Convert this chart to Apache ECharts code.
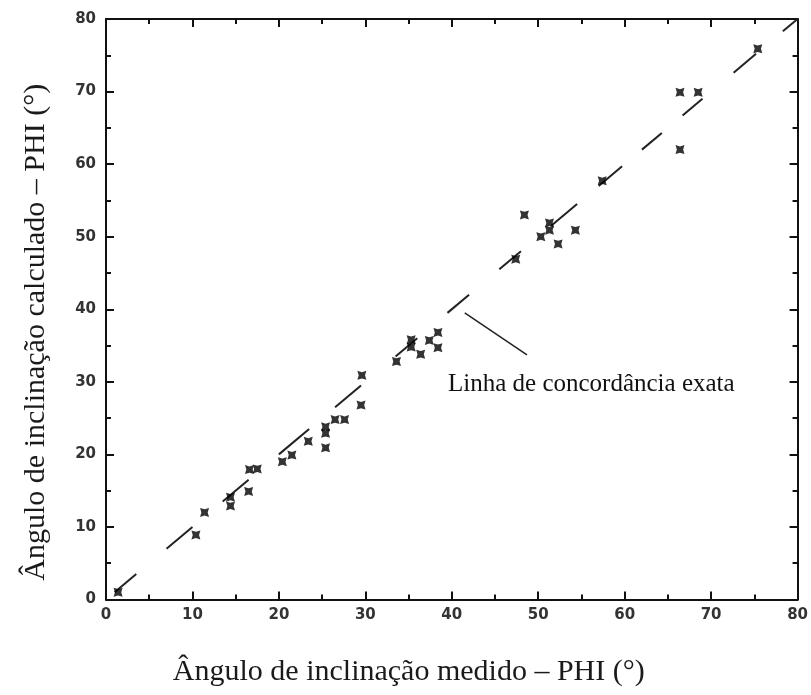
<!DOCTYPE html>
<html>
<head>
<meta charset="utf-8">
<script src="https://cdn.jsdelivr.net/npm/echarts@6/dist/echarts.min.js"></script>
<style>
html,body{margin:0;padding:0;background:#fff;}
#chart{width:811px;height:695px;}
</style>
</head>
<body>
<div id="chart"></div>
<script>
// Measured PHI (°) and calculated PHI (°)
const measured = [1.4, 10.4, 11.4, 14.4, 14.4, 16.5, 16.6, 17.5, 20.4, 21.5, 23.4, 25.4, 25.4, 25.4, 26.5, 27.6, 29.5, 29.6,
  33.6, 35.3, 35.3, 36.4, 37.4, 38.4, 38.4, 47.4, 48.4, 50.3, 51.3, 51.3, 52.3, 54.3, 57.4, 66.4, 68.5, 66.4, 75.4];
const calculated = [1, 8.9, 12, 14.1, 12.9, 14.9, 17.9, 18, 19, 19.9, 21.8, 20.9, 22.9, 23.8, 24.8, 24.8, 26.8, 30.9,
  32.8, 35.8, 34.8, 33.8, 35.7, 36.8, 34.7, 46.9, 53, 50, 51.9, 50.9, 49, 50.9, 57.7, 69.9, 69.9, 62, 75.9];
// Dashed line of exact agreement (y = x): drawn dash segments [start, end] in data units
const dashSegments = [[1, 3.5], [7, 10], [13.5, 16.5], [20, 23.5], [26.5, 29.5], [33.5, 36], [39.5, 42], [45.5, 48],
  [51.5, 54.5], [57, 59.7], [62, 64.3], [66.7, 69], [72.6, 75.2], [78.3, 80]];
// Annotation leader line (data units)
const leader = [[41.5, 39.5], [48.7, 33.7]];
const annotationText = 'Linha de concordância exata';
const xTitle = 'Ângulo de inclinação medido – PHI (°)';
const yTitle = 'Ângulo de inclinação calculado – PHI (°)';
const axisMin = 0, axisMax = 80, axisStep = 10;

const points = measured.map((x, i) => [x, calculated[i]]);
const chart = echarts.init(document.getElementById('chart'), null, {renderer: 'canvas'});

const axLine = {show: true, onZero: false, lineStyle: {color: '#111', width: 2}};
const tick = {show: true, inside: true, length: 8, lineStyle: {color: '#111', width: 2}};
const minor = {show: true, splitNumber: 2, length: 5, lineStyle: {color: '#111', width: 2}};
const lbl = {fontFamily: 'DejaVu Sans', fontSize: 15, fontWeight: 'bold', color: '#333'};

function baseAxis(extra) {
  return Object.assign({
    type: 'value', min: axisMin, max: axisMax, interval: axisStep,
    axisLine: axLine, axisTick: tick, minorTick: minor,
    splitLine: {show: false}, minorSplitLine: {show: false}
  }, extra);
}

chart.setOption({
  backgroundColor: '#fff',
  animation: false,
  grid: {left: 106, right: 9, top: 19, bottom: 95.5, containLabel: false},
  xAxis: [
    baseAxis({position: 'bottom', axisLabel: Object.assign({margin: 8}, lbl),
      name: xTitle, nameLocation: 'middle', nameGap: 58,
      nameTextStyle: {fontFamily: 'Liberation Serif', fontSize: 30, color: '#1a1a1a', padding: [0, 86, 0, 0]}}),
    baseAxis({position: 'top', axisLabel: {show: false}})
  ],
  yAxis: [
    baseAxis({position: 'left', axisLabel: Object.assign({margin: 10}, lbl),
      name: yTitle, nameLocation: 'middle', nameGap: 55,
      nameTextStyle: {fontFamily: 'Liberation Serif', fontSize: 30, color: '#1a1a1a', padding: [0, 46, 0, 0]}}),
    baseAxis({position: 'right', axisLabel: {show: false}})
  ],
  series: [
    {
      type: 'lines', coordinateSystem: 'cartesian2d', silent: true, z: 2,
      lineStyle: {color: '#222', width: 2, opacity: 1},
      data: dashSegments.map(s => ({coords: [[s[0], s[0]], [s[1], s[1]]]}))
    },
    {
      type: 'lines', coordinateSystem: 'cartesian2d', silent: true, z: 2,
      lineStyle: {color: '#222', width: 1.5, opacity: 1},
      data: [{coords: leader}]
    },
    {
      type: 'scatter', z: 3,
      symbol: 'path://M0,0 L5,1.5 L10,0 L8.5,5 L10,10 L5,8.5 L0,10 L1.5,5 Z',
      symbolSize: 9,
      itemStyle: {color: '#000'},
      data: points
    }
  ],
  graphic: [
    {type: 'text', left: 448, top: 372,
     style: {text: annotationText, fontFamily: 'Liberation Serif', fontSize: 25, fill: '#111'}}
  ]
});
</script>
</body>
</html>
